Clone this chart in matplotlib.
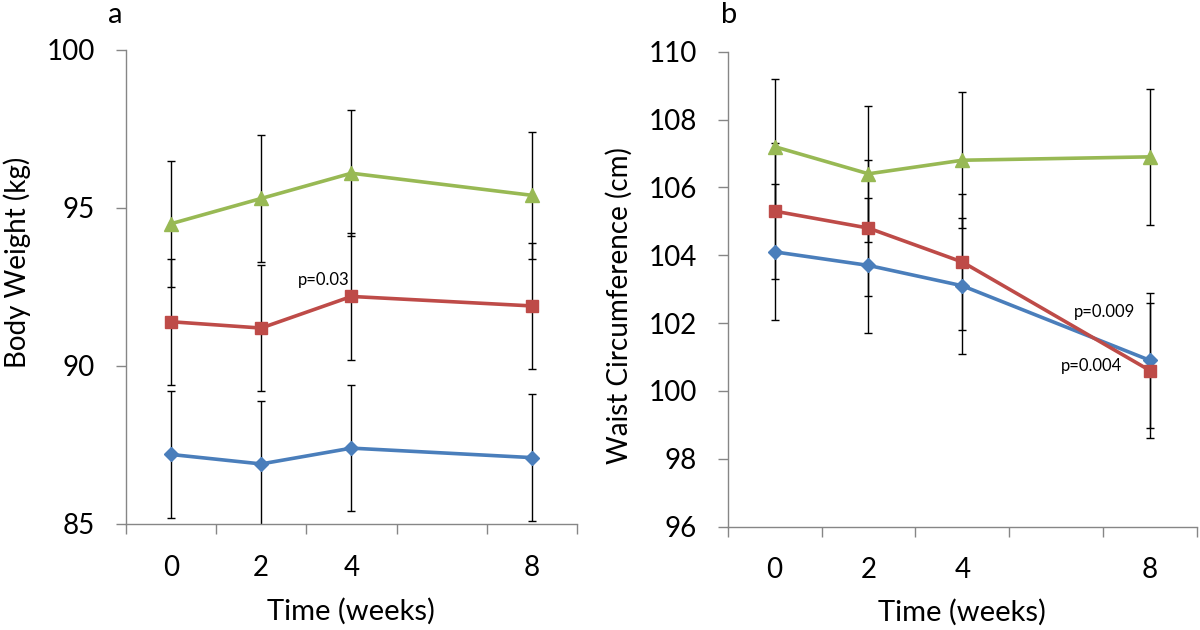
import matplotlib
matplotlib.use("Agg")
import matplotlib.pyplot as plt
from matplotlib.ticker import FixedLocator, NullFormatter

plt.rcParams['font.family'] = ['Lato', 'DejaVu Sans']

# data
weeks = [0, 2, 4, 8]

weight_blue = [87.2, 86.9, 87.4, 87.1]
weight_red = [91.4, 91.2, 92.2, 91.9]
weight_green = [94.5, 95.3, 96.1, 95.4]
weight_sd_blue = [2.0, 2.0, 2.0, 2.0]
weight_sd_red = [2.0, 2.0, 2.0, 2.0]
weight_sd_green = [2.0, 2.0, 2.0, 2.0]

waist_blue = [104.1, 103.7, 103.1, 100.9]
waist_red = [105.3, 104.8, 103.8, 100.6]
waist_green = [107.2, 106.4, 106.8, 106.9]
waist_sd_blue = [2.0, 2.0, 2.0, 2.0]
waist_sd_red = [2.0, 2.0, 2.0, 2.0]
waist_sd_green = [2.0, 2.0, 2.0, 2.0]

weight_ticks = [85, 90, 95, 100]
waist_ticks = [96, 98, 100, 102, 104, 106, 108, 110]

BLUE = '#4A7EBB'
RED = '#BE4B48'
GREEN = '#98B954'
AXIS_GRAY = '#868686'


def draw_series(ax, y, sd, color, marker, ms):
    ax.errorbar(weeks, y, yerr=sd, fmt='none', ecolor='black', elinewidth=1.0,
                capsize=3, capthick=1.0, zorder=2)
    ax.plot(weeks, y, color=color, lw=2.6, marker=marker, ms=ms,
            markeredgecolor=color, zorder=3)


def style_axes(ax, yticks):
    ax.set_xlim(-1, 9)
    ax.set_ylim(yticks[0], yticks[-1])
    ax.set_yticks(yticks)
    ax.set_xticks(weeks)
    ax.xaxis.set_minor_locator(FixedLocator([-1, 1, 3, 5, 7, 9]))
    ax.xaxis.set_minor_formatter(NullFormatter())
    for s in ['top', 'right']:
        ax.spines[s].set_visible(False)
    for s in ['left', 'bottom']:
        ax.spines[s].set_color(AXIS_GRAY)
        ax.spines[s].set_linewidth(1.0)
    ax.tick_params(axis='x', which='major', length=0, pad=22, labelsize=20)
    ax.tick_params(axis='x', which='minor', length=7.2, width=1.0,
                   color=AXIS_GRAY, direction='out')
    ax.tick_params(axis='y', length=7.2, width=1.0, color=AXIS_GRAY,
                   pad=15, labelsize=20)


fig = plt.figure(figsize=(12, 6.3), dpi=100)

# panel a
axA = fig.add_axes([0.1048, 0.1683, 0.3761, 0.7524])
draw_series(axA, weight_blue, weight_sd_blue, BLUE, 'D', 7)
draw_series(axA, weight_red, weight_sd_red, RED, 's', 9)
draw_series(axA, weight_green, weight_sd_green, GREEN, '^', 9.5)
style_axes(axA, weight_ticks)
axA.text(0.5, -0.2025, 'Time (weeks)', transform=axA.transAxes,
         ha='center', va='baseline', fontsize=21)
axA.text(-0.2415, 0.5527, 'Body Weight (kg)', transform=axA.transAxes,
         rotation=90, ha='center', va='center', fontsize=20)
axA.text(3.38, 92.72, 'p=0.03', ha='center', va='center', fontsize=12)
fig.text(115 / 1200, 1 - 15 / 630, 'a', ha='center', va='center', fontsize=21)

# panel b
axB = fig.add_axes([0.6064, 0.1640, 0.3911, 0.7540])
draw_series(axB, waist_blue, waist_sd_blue, BLUE, 'D', 7)
draw_series(axB, waist_red, waist_sd_red, RED, 's', 9)
draw_series(axB, waist_green, waist_sd_green, GREEN, '^', 9.5)
style_axes(axB, waist_ticks)
axB.text(0.5, -0.1985, 'Time (weeks)', transform=axB.transAxes,
         ha='center', va='baseline', fontsize=21)
axB.text(-0.232, 0.4657, 'Waist Circumference (cm)', transform=axB.transAxes,
         rotation=90, ha='center', va='center', fontsize=20)
axB.text(7.03, 102.34, 'p=0.009', ha='center', va='center', fontsize=12)
axB.text(6.75, 100.74, 'p=0.004', ha='center', va='center', fontsize=12)
fig.text(729 / 1200, 1 - 15 / 630, 'b', ha='center', va='center', fontsize=21)

fig.savefig('out.png', dpi=100)
